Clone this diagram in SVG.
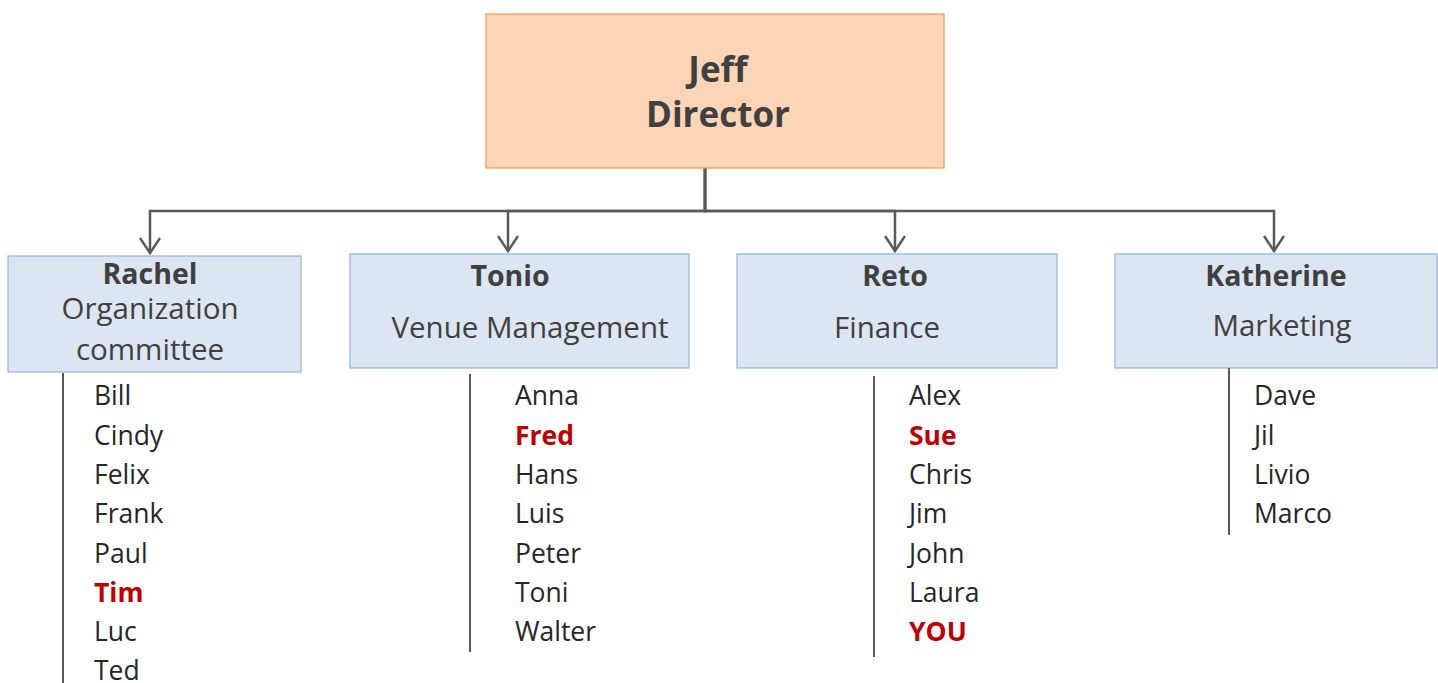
<svg xmlns="http://www.w3.org/2000/svg" width="1438" height="683" viewBox="0 0 1438 683">
<defs>
<marker id="arr" markerWidth="20" markerHeight="24" refX="16" refY="11" orient="auto" markerUnits="userSpaceOnUse" viewBox="0 0 20 24">
<path d="M1,1 L16,11 L1,21" fill="none" stroke="#595959" stroke-width="2.4"/>
</marker>
<style>
.conn{fill:none;stroke:#595959;stroke-width:2.5}
.top{fill:#fbd5b5;stroke:#f79646;stroke-width:1.2}
.mgr{fill:#dce6f2;stroke:#95b3d7;stroke-width:1.2}
text{font-family:"Open Sans","Liberation Sans",sans-serif}
.t1{font-size:35px;font-weight:bold;fill:#404040;text-anchor:middle}
.h{font-size:28.5px;font-weight:bold;fill:#404040;text-anchor:middle}
.r{font-size:29.5px;fill:#404040;text-anchor:middle}
.l{font-size:26.5px;fill:#262626}
.red{fill:#c00000;font-weight:bold}
.vl{stroke:#595959;stroke-width:2;fill:none}
</style>
</defs>
<g id="connectors">
<path class="conn" d="M705,168 V211 H150 V253" marker-end="url(#arr)"/>
<path class="conn" d="M705,168 V211 H508 V251" marker-end="url(#arr)"/>
<path class="conn" d="M705,168 V211 H895 V251" marker-end="url(#arr)"/>
<path class="conn" d="M705,168 V211 H1274 V251" marker-end="url(#arr)"/>
</g>
<g id="jeff">
<rect class="top" x="486" y="14" width="458" height="154"/>
<text class="t1" x="718" y="82">Jeff</text>
<text class="t1" x="718" y="127">Director</text>
</g>
<g id="rachel">
<rect class="mgr" x="8" y="256" width="293" height="116"/>
<text class="h" x="150" y="284">Rachel</text>
<text class="r" x="150" y="319">Organization</text>
<text class="r" x="150" y="360">committee</text>
<line class="vl" x1="63" y1="373" x2="63" y2="683"/>
<text class="l" x="94" y="405">Bill</text>
<text class="l" x="94" y="445">Cindy</text>
<text class="l" x="94" y="484">Felix</text>
<text class="l" x="94" y="523">Frank</text>
<text class="l" x="94" y="563">Paul</text>
<text class="l red" x="94" y="602">Tim</text>
<text class="l" x="94" y="641">Luc</text>
<text class="l" x="94" y="680">Ted</text>
</g>
<g id="tonio">
<rect class="mgr" x="350" y="254" width="339" height="114"/>
<text class="h" x="510" y="286">Tonio</text>
<text class="r" x="530" y="338">Venue Management</text>
<line class="vl" x1="470" y1="374" x2="470" y2="652"/>
<text class="l" x="515" y="405">Anna</text>
<text class="l red" x="515" y="445">Fred</text>
<text class="l" x="515" y="484">Hans</text>
<text class="l" x="515" y="523">Luis</text>
<text class="l" x="515" y="563">Peter</text>
<text class="l" x="515" y="602">Toni</text>
<text class="l" x="515" y="641">Walter</text>
</g>
<g id="reto">
<rect class="mgr" x="737" y="254" width="320" height="114"/>
<text class="h" x="895" y="286">Reto</text>
<text class="r" x="887" y="338">Finance</text>
<line class="vl" x1="874" y1="376" x2="874" y2="657"/>
<text class="l" x="909" y="405">Alex</text>
<text class="l red" x="909" y="445">Sue</text>
<text class="l" x="909" y="484">Chris</text>
<text class="l" x="909" y="523">Jim</text>
<text class="l" x="909" y="563">John</text>
<text class="l" x="909" y="602">Laura</text>
<text class="l red" x="909" y="641">YOU</text>
</g>
<g id="katherine">
<rect class="mgr" x="1115" y="254" width="322" height="114"/>
<text class="h" x="1276" y="286">Katherine</text>
<text class="r" x="1282" y="336">Marketing</text>
<line class="vl" x1="1229" y1="368" x2="1229" y2="535"/>
<text class="l" x="1254" y="405">Dave</text>
<text class="l" x="1254" y="445">Jil</text>
<text class="l" x="1254" y="484">Livio</text>
<text class="l" x="1254" y="523">Marco</text>
</g>
</svg>
